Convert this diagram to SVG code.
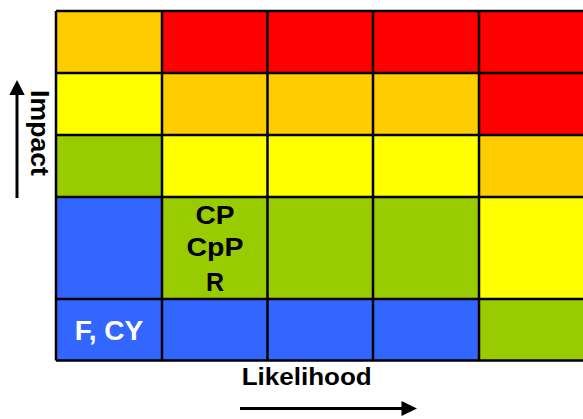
<svg xmlns="http://www.w3.org/2000/svg" width="583" height="419" viewBox="0 0 583 419">
<defs>
<style>
.o{fill:#FFCC00}.r{fill:#FF0000}.y{fill:#FFFF00}.g{fill:#99CC00}.b{fill:#3366FF}
.grid{stroke:#000;stroke-width:2.5;fill:none}
.t{font-family:"Liberation Sans",Arial,sans-serif;font-weight:bold}
.ax{stroke:#000;stroke-width:3;fill:none}
</style>
</defs>
<rect width="583" height="419" fill="#fff"/>
<g id="cells">
<g id="r1"><rect class="o" x="56" y="11" width="106" height="62"/><rect class="r" x="162" y="11" width="106" height="62"/><rect class="r" x="268" y="11" width="105" height="62"/><rect class="r" x="373" y="11" width="106" height="62"/><rect class="r" x="479" y="11" width="110" height="62"/></g>
<g id="r2"><rect class="y" x="56" y="73" width="106" height="62"/><rect class="o" x="162" y="73" width="106" height="62"/><rect class="o" x="268" y="73" width="105" height="62"/><rect class="o" x="373" y="73" width="106" height="62"/><rect class="r" x="479" y="73" width="110" height="62"/></g>
<g id="r3"><rect class="g" x="56" y="135" width="106" height="62"/><rect class="y" x="162" y="135" width="106" height="62"/><rect class="y" x="268" y="135" width="105" height="62"/><rect class="y" x="373" y="135" width="106" height="62"/><rect class="o" x="479" y="135" width="110" height="62"/></g>
<g id="r4"><rect class="b" x="56" y="197" width="106" height="102"/><rect class="g" x="162" y="197" width="106" height="102"/><rect class="g" x="268" y="197" width="105" height="102"/><rect class="g" x="373" y="197" width="106" height="102"/><rect class="y" x="479" y="197" width="110" height="102"/></g>
<g id="r5"><rect class="b" x="56" y="299" width="106" height="61"/><rect class="b" x="162" y="299" width="106" height="61"/><rect class="b" x="268" y="299" width="105" height="61"/><rect class="b" x="373" y="299" width="106" height="61"/><rect class="g" x="479" y="299" width="110" height="61"/></g>
</g>
<g id="gridlines" class="grid">
<path d="M56,11H590M56,73H590M56,135H590M56,197H590M56,299H590M56,360.5H590"/>
<path d="M56,11V360.5M162,11V360.5M267.5,11V360.5M373,11V360.5M479,11V360.5"/>
</g>
<g id="cell-cp">
<text class="t" x="215" y="223.5" font-size="25" text-anchor="middle" textLength="39" lengthAdjust="spacingAndGlyphs">CP</text>
<text class="t" x="215" y="256" font-size="25" text-anchor="middle" textLength="57" lengthAdjust="spacingAndGlyphs">CpP</text>
<text class="t" x="215" y="291" font-size="25" text-anchor="middle">R</text>
</g>
<g id="cell-fcy">
<text class="t" x="109" y="339.5" font-size="28" text-anchor="middle" fill="#fff">F, CY</text>
</g>
<g id="label-likelihood">
<text class="t" x="306.7" y="385" font-size="23" text-anchor="middle" textLength="130" lengthAdjust="spacingAndGlyphs">Likelihood</text>
</g>
<g id="label-impact">
<text class="t" transform="translate(31,133) rotate(90)" x="0" y="0" font-size="25" text-anchor="middle" textLength="86" lengthAdjust="spacingAndGlyphs">Impact</text>
</g>
<g id="connectors">
<path class="ax" d="M240,408.5H403"/>
<path d="M401.5,401 L417,408.5 L401.5,416 Z" fill="#000"/>
<path class="ax" d="M17,198V93"/>
<path d="M9.3,95 L17,80 L24.7,95 Z" fill="#000"/>
</g>
</svg>
